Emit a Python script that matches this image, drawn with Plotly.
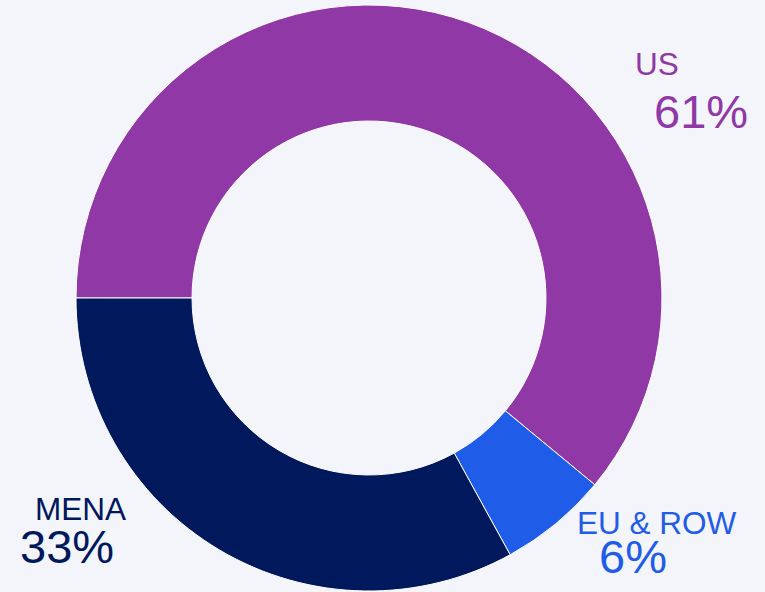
import plotly.graph_objects as go

labels = ["US", "EU & ROW", "MENA"]
values = [61, 6, 33]
pct_text = ["61%", "6%", "33%"]
colors = ["#9038A6", "#1F5CE8", "#00185C"]

W, H = 765, 592
cx, cy, R = 369, 298, 293

fig = go.Figure(go.Pie(
    labels=labels, values=values, sort=False, direction="clockwise",
    rotation=270, hole=0.604, textinfo="none", hoverinfo="label+percent",
    marker=dict(colors=colors, line=dict(color="#ffffff", width=1)),
    domain=dict(x=[(cx - R) / W, (cx + R) / W], y=[(H - cy - R) / H, (H - cy + R) / H]),
    showlegend=False,
))

# label positions (pixel centers) : name line and percent line
name_pos = [(657, 64), (656.5, 522.5), (80, 509)]
pct_pos = [(701, 111.5), (633, 556), (67, 546.5)]

ann = []
for i in range(3):
    nx, ny = name_pos[i]
    px, py = pct_pos[i]
    ann.append(dict(text=labels[i].replace("&", "&amp;"), x=nx / W, y=1 - ny / H, xref="paper", yref="paper",
                    xanchor="center", yanchor="middle", showarrow=False,
                    font=dict(family="Liberation Sans, Arial", size=31.5, color=colors[i])))
    ann.append(dict(text=pct_text[i], x=px / W, y=1 - py / H, xref="paper", yref="paper",
                    xanchor="center", yanchor="middle", showarrow=False,
                    font=dict(family="Liberation Sans, Arial", size=47, color=colors[i])))

fig.update_layout(
    width=W, height=H, margin=dict(l=0, r=0, t=0, b=0),
    paper_bgcolor="#F4F5FA", plot_bgcolor="#F4F5FA",
    annotations=ann,
)
fig.write_html(
    "out.html",
    config={"displayModeBar": False},
    post_script="document.body.style.margin='0';document.body.style.background='#F4F5FA';",
)
